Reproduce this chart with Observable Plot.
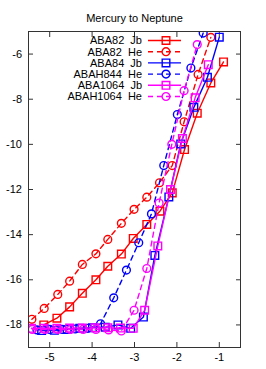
<!DOCTYPE html>
<html><head><meta charset="utf-8">
<script src="https://cdn.jsdelivr.net/npm/d3@7"></script>
<script src="https://cdn.jsdelivr.net/npm/@observablehq/plot@0.6"></script>
<style>
body{margin:0;background:#fff}
svg{font-family:"Liberation Sans",Arial,sans-serif}
</style>
</head><body><div id="chart"></div><script>
const titleText = "Mercury to Neptune";
const xTicks = [-5, -4, -3, -2, -1];
const yTicks = [-18, -16, -14, -12, -10, -8, -6];

const seriesNames = ["ABA82  Jb", "ABA82  He", "ABA84  Jb", "ABAH844  He", "ABA1064  Jb", "ABAH1064  He"];
const seriesColors = ["#ff0000", "#ff0000", "#0000ff", "#0000ff", "#ff00ff", "#ff00ff"];
const seriesDashed = [false, true, false, true, false, true];
const seriesSymbols = ["square", "circle", "square", "circle", "square", "circle"];

const aba82JbX = [-5.14, -4.83, -4.53, -4.23, -3.91, -3.63, -3.31, -3.03, -2.71, -2.40, -2.11, -1.82, -1.52, -1.20, -0.90];
const aba82JbY = [-18.0, -17.7, -17.2, -16.6, -16.0, -15.4, -14.86, -14.17, -13.55, -12.96, -12.15, -10.23, -8.62, -7.28, -6.35];

const aba82HeX = [-5.42, -5.13, -4.81, -4.53, -4.23, -3.91, -3.63, -3.31, -3.01, -2.71, -2.41, -2.11, -1.83, -1.50, -1.20];
const aba82HeY = [-17.75, -17.27, -16.65, -16.06, -15.32, -14.85, -14.21, -13.5, -12.88, -12.34, -11.7, -10.94, -9.0, -6.9, -5.26];

const aba84JbX = [-5.19, -4.89, -4.59, -4.29, -3.99, -3.69, -3.39, -3.09, -2.79, -2.52, -2.19, -1.91, -1.60, -1.28, -1.00];
const aba84JbY = [-18.25, -18.24, -18.2, -18.15, -18.12, -18.1, -18.0, -18.15, -17.65, -14.92, -12.33, -9.98, -8.36, -7.03, -5.25];

const abah844HeX = [-5.3, -5.0, -4.7, -4.4, -4.1, -3.80, -3.49, -3.19, -2.90, -2.60, -2.31, -1.99, -1.67, -1.38];
const abah844HeY = [-18.22, -18.2, -18.2, -18.18, -18.15, -17.95, -16.8, -15.57, -14.36, -13.08, -10.94, -8.68, -6.62, -5.07];

const aba1064JbX = [-5.43, -5.13, -4.83, -4.53, -4.23, -3.93, -3.63, -3.33, -3.03, -2.76, -2.45, -2.15, -1.87, -1.57, -1.26];
const aba1064JbY = [-18.15, -18.15, -18.15, -18.14, -18.14, -18.13, -18.13, -18.14, -18.15, -17.35, -14.5, -12.0, -9.74, -7.94, -6.47];

const abah1064HeX = [-5.41, -5.11, -4.81, -4.51, -4.21, -3.91, -3.61, -3.31, -3.01, -2.71, -2.42, -2.12, -1.83, -1.52];
const abah1064HeY = [-18.2, -18.2, -18.2, -18.2, -18.2, -18.2, -18.22, -18.27, -17.35, -15.5, -12.6, -10.0, -7.62, -5.58];

const seriesX = [aba82JbX, aba82HeX, aba84JbX, abah844HeX, aba1064JbX, abah1064HeX];
const seriesY = [aba82JbY, aba82HeY, aba84JbY, abah844HeY, aba1064JbY, abah1064HeY];

const rows = seriesNames.map((name, i) => seriesX[i].map((x, j) => ({series: name, x, y: seriesY[i][j]})));

const dash = "5,4";
const lw = 1.4;
const marks = [];
rows.forEach((data, i) => {
  marks.push(Plot.line(data, {x: "x", y: "y", stroke: seriesColors[i], strokeWidth: lw,
    strokeDasharray: seriesDashed[i] ? dash : null, clip: true}));
  marks.push(Plot.dot(data, {x: "x", y: "y", stroke: seriesColors[i], strokeWidth: lw, fill: "none",
    symbol: seriesSymbols[i], r: seriesSymbols[i] === "square" ? 4.3 : 3.9, clip: true}));
});

const fmt = d => `${d}`;
const chart = Plot.plot({
  width: 266,
  height: 369,
  marginLeft: 28,
  marginRight: 26,
  marginTop: 31,
  marginBottom: 22,
  style: {fontFamily: '"Liberation Sans", Arial, sans-serif', fontSize: "11px", background: "#fff", color: "#000", overflow: "visible"},
  x: {domain: [-5.5, -0.5]},
  y: {domain: [-19, -5]},
  marks: [
    Plot.axisX({anchor: "bottom", ticks: xTicks, tickSize: -5, tickPadding: 11, tickFormat: fmt, label: null, fontSize: 11, stroke: "#333"}),
    Plot.axisX({anchor: "top", ticks: xTicks, tickSize: -5, tickFormat: () => "", label: null, stroke: "#333"}),
    Plot.axisY({anchor: "left", ticks: yTicks, tickSize: -5, tickPadding: 11.5, tickFormat: fmt, label: null, fontSize: 11, stroke: "#333"}),
    Plot.axisY({anchor: "right", ticks: yTicks, tickSize: -5, tickFormat: () => "", label: null, stroke: "#333"}),
    ...marks,
    Plot.frame({stroke: "#333", strokeWidth: 1}),
    Plot.text([titleText], {frameAnchor: "top", dy: -17, text: d => d, fontSize: 11})
  ]
});

// legend (gnuplot style key, inside top-left)
const svg = d3.select(chart);
const key = svg.append("g").attr("font-size", 11);
const textRight = 142, lineX1 = 148, lineX2 = 181, row0 = 40.5, rowH = 11.2;
seriesNames.forEach((name, i) => {
  const cy = row0 + i * rowH;
  key.append("text").attr("x", textRight).attr("y", cy).attr("dy", "0.35em")
    .attr("text-anchor", "end").style("white-space", "pre").attr("fill", "#000").text(name);
  key.append("line").attr("x1", lineX1).attr("x2", lineX2).attr("y1", cy).attr("y2", cy)
    .attr("stroke", seriesColors[i]).attr("stroke-width", lw)
    .attr("stroke-dasharray", seriesDashed[i] ? dash : null);
  const sym = seriesSymbols[i] === "square" ? d3.symbolSquare : d3.symbolCircle;
  const r = seriesSymbols[i] === "square" ? 4.3 : 3.9;
  key.append("path").attr("d", d3.symbol(sym, Math.PI * r * r)())
    .attr("transform", `translate(${(lineX1 + lineX2) / 2 + 1.5},${cy})`)
    .attr("fill", "none").attr("stroke", seriesColors[i]).attr("stroke-width", lw);
});
document.getElementById("chart").appendChild(chart);
</script></body></html>
